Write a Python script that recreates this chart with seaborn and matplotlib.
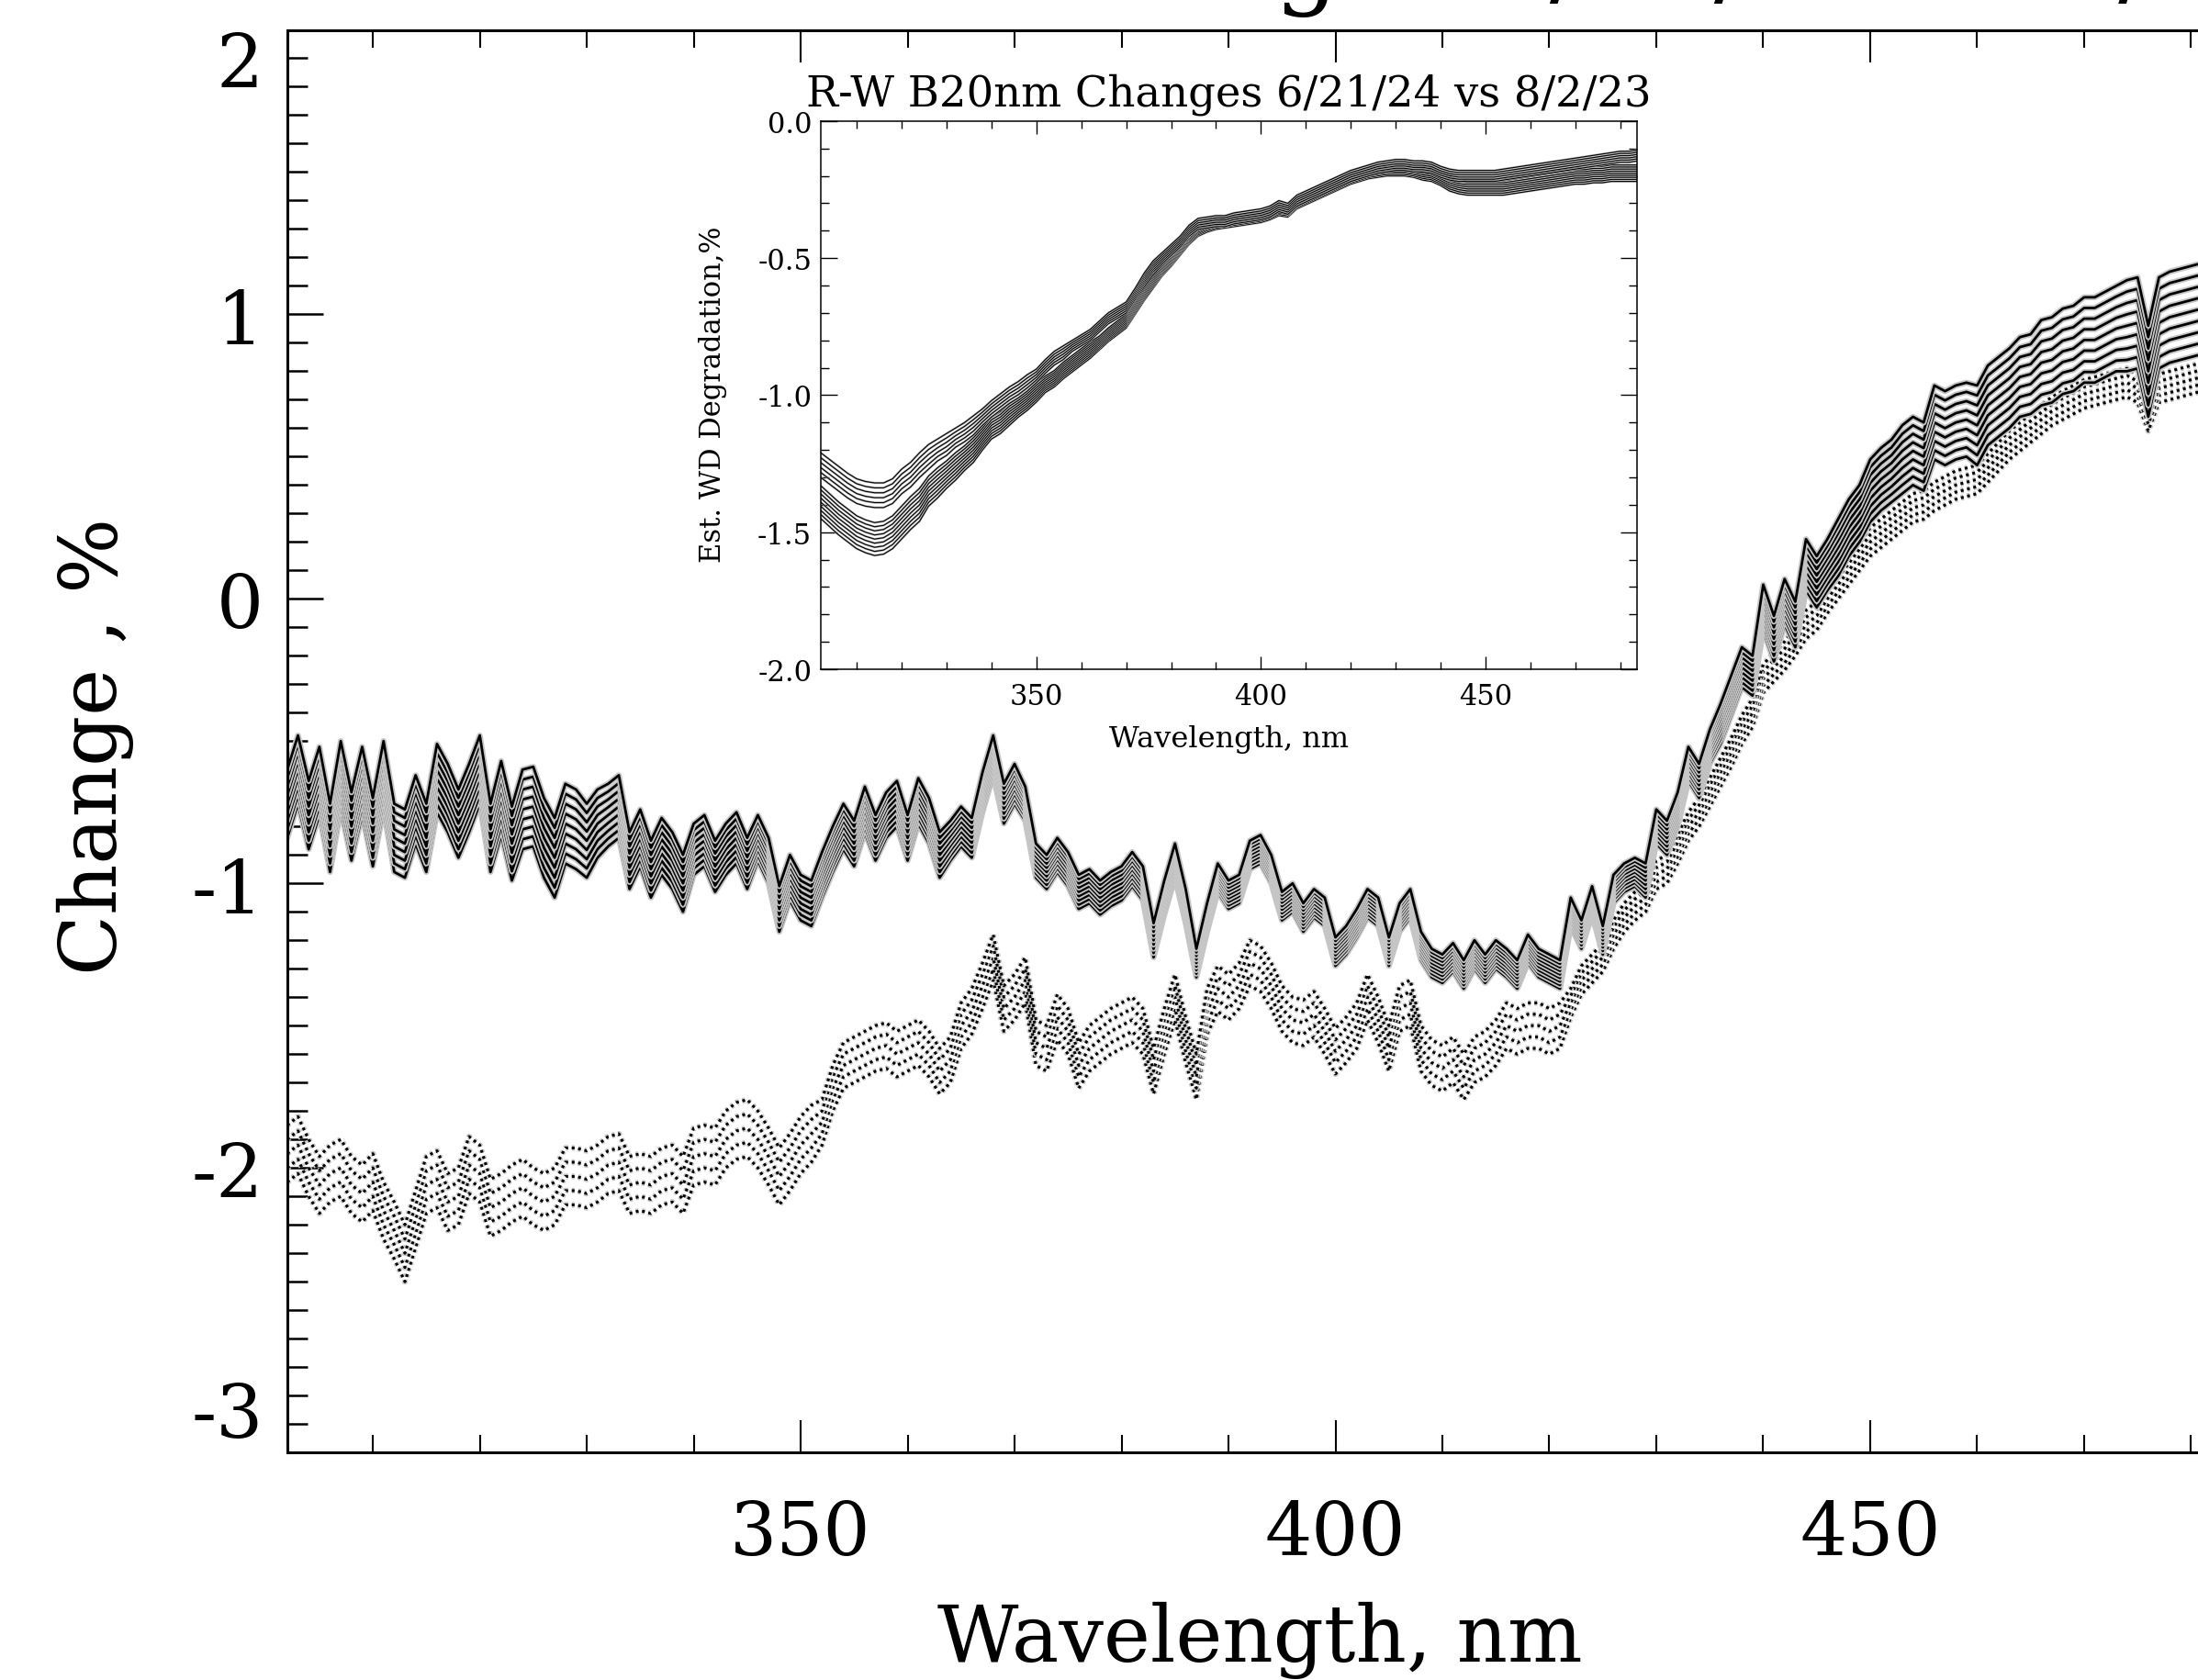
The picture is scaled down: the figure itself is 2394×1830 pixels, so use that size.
"""Estimated window-degradation change spectra with the degradation inset."""
import numpy as np
import pandas as pd
import matplotlib
matplotlib.use("Agg")
import matplotlib.pyplot as plt
import matplotlib.patheffects as pe
from matplotlib.ticker import MultipleLocator, FormatStrFormatter
import seaborn as sns

# ---- main panel, 1 nm steps 302..484 ----
wavelength = np.arange(302, 485)

solid_mid = [
    -0.72, -0.60, -0.76, -0.64, -0.84, -0.62, -0.80, -0.64, -0.82, -0.62,
    -0.84, -0.86, -0.74, -0.84, -0.63, -0.70, -0.79, -0.70, -0.60, -0.84,
    -0.70, -0.86, -0.74, -0.73, -0.84, -0.91, -0.79, -0.81, -0.85, -0.79,
    -0.76, -0.73, -0.92, -0.84, -0.95, -0.87, -0.92, -1.00, -0.88, -0.85,
    -0.94, -0.88, -0.84, -0.93, -0.84, -0.92, -1.09, -0.98, -1.05, -1.07,
    -0.97, -0.88, -0.80, -0.86, -0.74, -0.84, -0.76, -0.72, -0.84, -0.71,
    -0.78, -0.90, -0.85, -0.80, -0.84, -0.68, -0.55, -0.72, -0.65, -0.72,
    -0.92, -0.96, -0.90, -0.95, -1.03, -1.01, -1.05, -1.02, -1.00, -0.95,
    -1.00, -1.20, -1.05, -0.92, -1.08, -1.28, -1.12, -0.98, -1.04, -1.02,
    -0.90, -0.88, -0.95, -1.08, -1.05, -1.12, -1.07, -1.10, -1.24, -1.20,
    -1.14, -1.07, -1.10, -1.24, -1.12, -1.07, -1.22, -1.28, -1.30, -1.26,
    -1.32, -1.25, -1.30, -1.25, -1.28, -1.32, -1.23, -1.28, -1.30, -1.32,
    -1.10, -1.18, -1.06, -1.20, -1.02, -0.98, -0.96, -0.99, -0.80, -0.84,
    -0.74, -0.58, -0.64, -0.52, -0.44, -0.34, -0.24, -0.27, -0.03, -0.14,
    -0.01, -0.09, 0.12, 0.06, 0.12, 0.18, 0.25, 0.30, 0.38, 0.42,
    0.45, 0.49, 0.52, 0.50, 0.62, 0.60, 0.62, 0.63, 0.61, 0.68,
    0.71, 0.74, 0.78, 0.79, 0.83, 0.84, 0.87, 0.88, 0.91, 0.91,
    0.93, 0.95, 0.96, 0.97, 0.80, 0.97, 0.99, 1.00, 1.01, 1.02,
    1.03, 1.04, 1.05,
]
solid_half = [
    0.12, 0.12, 0.12, 0.12, 0.12, 0.12, 0.12, 0.12, 0.12, 0.12,
    0.12, 0.12, 0.12, 0.12, 0.12, 0.12, 0.12, 0.12, 0.12, 0.12,
    0.13, 0.13, 0.14, 0.14, 0.14, 0.14, 0.14, 0.14, 0.13, 0.12,
    0.11, 0.11, 0.10, 0.10, 0.10, 0.10, 0.10, 0.10, 0.09, 0.09,
    0.09, 0.09, 0.09, 0.09, 0.08, 0.08, 0.08, 0.08, 0.08, 0.08,
    0.08, 0.08, 0.08, 0.08, 0.08, 0.08, 0.08, 0.08, 0.08, 0.08,
    0.08, 0.08, 0.07, 0.07, 0.07, 0.07, 0.07, 0.07, 0.07, 0.06,
    0.06, 0.06, 0.06, 0.06, 0.06, 0.06, 0.06, 0.06, 0.06, 0.06,
    0.06, 0.06, 0.06, 0.06, 0.06, 0.05, 0.05, 0.05, 0.05, 0.05,
    0.05, 0.05, 0.05, 0.05, 0.05, 0.05, 0.05, 0.05, 0.05, 0.05,
    0.05, 0.05, 0.05, 0.05, 0.05, 0.05, 0.05, 0.05, 0.05, 0.05,
    0.05, 0.05, 0.05, 0.05, 0.05, 0.05, 0.05, 0.05, 0.05, 0.05,
    0.05, 0.05, 0.05, 0.05, 0.05, 0.05, 0.05, 0.06, 0.06, 0.06,
    0.06, 0.06, 0.06, 0.06, 0.07, 0.07, 0.07, 0.07, 0.08, 0.08,
    0.08, 0.08, 0.09, 0.09, 0.09, 0.10, 0.10, 0.10, 0.11, 0.11,
    0.11, 0.12, 0.12, 0.12, 0.13, 0.13, 0.13, 0.13, 0.14, 0.14,
    0.14, 0.14, 0.14, 0.14, 0.15, 0.15, 0.15, 0.15, 0.15, 0.15,
    0.15, 0.15, 0.16, 0.16, 0.16, 0.16, 0.16, 0.16, 0.16, 0.16,
    0.16, 0.16, 0.16,
]
dotted_mid = [
    -1.95, -1.92, -2.00, -2.06, -2.02, -2.00, -2.06, -2.09, -2.05, -2.15,
    -2.22, -2.30, -2.18, -2.06, -2.04, -2.12, -2.10, -1.99, -2.02, -2.14,
    -2.12, -2.09, -2.07, -2.10, -2.12, -2.10, -2.03, -2.03, -2.04, -2.02,
    -1.99, -1.98, -2.06, -2.05, -2.06, -2.03, -2.02, -2.06, -1.96, -1.95,
    -1.96, -1.90, -1.87, -1.86, -1.90, -1.96, -2.03, -1.98, -1.92, -1.88,
    -1.84, -1.72, -1.64, -1.62, -1.60, -1.58, -1.57, -1.60, -1.58, -1.56,
    -1.60, -1.66, -1.62, -1.50, -1.45, -1.36, -1.26, -1.44, -1.40, -1.34,
    -1.56, -1.58, -1.47, -1.52, -1.64, -1.58, -1.55, -1.52, -1.50, -1.48,
    -1.52, -1.66, -1.52, -1.40, -1.55, -1.68, -1.45, -1.37, -1.40, -1.36,
    -1.28, -1.30, -1.36, -1.44, -1.48, -1.49, -1.46, -1.52, -1.59, -1.55,
    -1.50, -1.40, -1.48, -1.58, -1.44, -1.42, -1.58, -1.63, -1.65, -1.62,
    -1.68, -1.62, -1.60, -1.56, -1.50, -1.52, -1.50, -1.50, -1.52, -1.50,
    -1.42, -1.34, -1.30, -1.26, -1.18, -1.12, -1.08, -1.05, -0.97, -0.95,
    -0.88, -0.80, -0.75, -0.68, -0.61, -0.54, -0.46, -0.40, -0.28, -0.24,
    -0.20, -0.15, -0.09, -0.06, 0.00, 0.05, 0.10, 0.15, 0.20, 0.23,
    0.26, 0.29, 0.32, 0.33, 0.36, 0.38, 0.40, 0.41, 0.42, 0.46,
    0.50, 0.54, 0.57, 0.60, 0.63, 0.66, 0.68, 0.70, 0.72, 0.73,
    0.74, 0.75, 0.76, 0.74, 0.64, 0.74, 0.75, 0.76, 0.77, 0.78,
    0.79, 0.80, 0.81,
]
dotted_half = [
    0.10, 0.10, 0.10, 0.10, 0.10, 0.10, 0.10, 0.10, 0.10, 0.10,
    0.10, 0.10, 0.10, 0.10, 0.10, 0.10, 0.10, 0.10, 0.10, 0.10,
    0.10, 0.10, 0.10, 0.10, 0.10, 0.10, 0.10, 0.10, 0.10, 0.10,
    0.10, 0.10, 0.10, 0.10, 0.10, 0.10, 0.10, 0.10, 0.10, 0.10,
    0.10, 0.10, 0.10, 0.10, 0.10, 0.10, 0.10, 0.10, 0.10, 0.10,
    0.08, 0.08, 0.08, 0.08, 0.08, 0.08, 0.08, 0.08, 0.08, 0.08,
    0.08, 0.08, 0.08, 0.08, 0.08, 0.08, 0.08, 0.08, 0.08, 0.08,
    0.08, 0.08, 0.08, 0.08, 0.08, 0.08, 0.08, 0.08, 0.08, 0.08,
    0.08, 0.08, 0.08, 0.08, 0.08, 0.08, 0.08, 0.08, 0.08, 0.08,
    0.08, 0.08, 0.08, 0.08, 0.08, 0.08, 0.08, 0.08, 0.08, 0.08,
    0.08, 0.08, 0.08, 0.08, 0.08, 0.08, 0.08, 0.08, 0.08, 0.08,
    0.08, 0.08, 0.08, 0.08, 0.08, 0.08, 0.08, 0.08, 0.08, 0.08,
    0.05, 0.05, 0.05, 0.05, 0.05, 0.05, 0.05, 0.05, 0.05, 0.05,
    0.05, 0.05, 0.05, 0.05, 0.05, 0.05, 0.05, 0.05, 0.05, 0.05,
    0.05, 0.05, 0.05, 0.05, 0.05, 0.05, 0.05, 0.05, 0.05, 0.05,
    0.05, 0.05, 0.05, 0.05, 0.05, 0.05, 0.05, 0.05, 0.05, 0.05,
    0.05, 0.05, 0.05, 0.05, 0.05, 0.05, 0.05, 0.05, 0.05, 0.05,
    0.05, 0.05, 0.05, 0.05, 0.05, 0.05, 0.05, 0.05, 0.05, 0.05,
    0.05, 0.05, 0.05,
]
# relative position of each spectrum inside its bundle
solid_frac = [-1.0, -0.75, -0.5, -0.25, 0.0, 0.25, 0.5, 0.75, 1.0]
dotted_frac = [-1.0, -0.5, 0.0, 0.5, 1.0]

# ---- inset, 2 nm steps 302..484 ----
inset_wavelength = np.arange(302, 485, 2)
upper_mid = [
    -1.255, -1.28, -1.305, -1.33, -1.35, -1.36, -1.365, -1.365, -1.35, -1.315,
    -1.29, -1.255, -1.225, -1.20, -1.18, -1.155, -1.135, -1.11, -1.08, -1.05,
    -1.025, -1.00, -0.98, -0.955, -0.93, -0.895, -0.865, -0.845, -0.82, -0.80,
    -0.78, -0.75, -0.72, -0.70, -0.68, -0.63, -0.575, -0.53, -0.50, -0.47,
    -0.44, -0.40, -0.375, -0.37, -0.365, -0.365, -0.355, -0.35, -0.345, -0.34,
    -0.33, -0.31, -0.32, -0.29, -0.275, -0.26, -0.245, -0.23, -0.215, -0.20,
    -0.19, -0.18, -0.17, -0.165, -0.16, -0.16, -0.165, -0.165, -0.17, -0.185,
    -0.195, -0.20, -0.20, -0.20, -0.20, -0.20, -0.195, -0.19, -0.185, -0.18,
    -0.175, -0.17, -0.165, -0.16, -0.155, -0.15, -0.145, -0.14, -0.135, -0.13,
    -0.13, -0.125,
]
lower_mid = [
    -1.39, -1.42, -1.45, -1.475, -1.50, -1.515, -1.525, -1.52, -1.50, -1.465,
    -1.43, -1.40, -1.35, -1.32, -1.29, -1.26, -1.23, -1.20, -1.16, -1.12,
    -1.10, -1.07, -1.045, -1.02, -0.99, -0.96, -0.94, -0.91, -0.885, -0.86,
    -0.835, -0.81, -0.78, -0.755, -0.73, -0.68, -0.63, -0.585, -0.545, -0.51,
    -0.47, -0.43, -0.40, -0.385, -0.375, -0.37, -0.365, -0.36, -0.355, -0.35,
    -0.34, -0.325, -0.33, -0.30, -0.285, -0.27, -0.255, -0.24, -0.225, -0.21,
    -0.20, -0.19, -0.185, -0.18, -0.18, -0.18, -0.185, -0.19, -0.195, -0.21,
    -0.225, -0.235, -0.24, -0.24, -0.24, -0.24, -0.24, -0.235, -0.23, -0.225,
    -0.22, -0.215, -0.21, -0.205, -0.20, -0.20, -0.195, -0.195, -0.19, -0.19,
    -0.19, -0.19,
]
upper_half = [
    0.045, 0.045, 0.045, 0.045, 0.045, 0.045, 0.045, 0.045, 0.045, 0.045,
    0.045, 0.045, 0.045, 0.04, 0.04, 0.035, 0.035, 0.035, 0.03, 0.03,
    0.03, 0.03, 0.03, 0.03, 0.025, 0.025, 0.025, 0.025, 0.02, 0.02,
    0.02, 0.02, 0.02, 0.02, 0.02, 0.02, 0.02, 0.02, 0.02, 0.02,
    0.02, 0.02, 0.02, 0.02, 0.02, 0.02, 0.02, 0.02, 0.02, 0.02,
    0.02, 0.02, 0.02, 0.02, 0.02, 0.02, 0.02, 0.02, 0.02, 0.02,
    0.02, 0.02, 0.02, 0.02, 0.02, 0.02, 0.02, 0.02, 0.02, 0.02,
    0.02, 0.02, 0.02, 0.02, 0.02, 0.02, 0.02, 0.02, 0.02, 0.02,
    0.02, 0.02, 0.02, 0.02, 0.02, 0.02, 0.02, 0.02, 0.02, 0.02,
    0.02, 0.02,
]
lower_half = [
    0.06, 0.06, 0.06, 0.06, 0.06, 0.06, 0.06, 0.06, 0.06, 0.06,
    0.06, 0.06, 0.055, 0.055, 0.05, 0.05, 0.045, 0.045, 0.04, 0.04,
    0.04, 0.04, 0.035, 0.035, 0.035, 0.03, 0.03, 0.03, 0.03, 0.03,
    0.03, 0.025, 0.025, 0.025, 0.025, 0.025, 0.025, 0.025, 0.02, 0.02,
    0.02, 0.02, 0.02, 0.02, 0.02, 0.02, 0.02, 0.02, 0.02, 0.02,
    0.02, 0.02, 0.02, 0.02, 0.02, 0.02, 0.02, 0.02, 0.02, 0.02,
    0.02, 0.02, 0.02, 0.02, 0.02, 0.02, 0.02, 0.025, 0.025, 0.025,
    0.03, 0.03, 0.03, 0.03, 0.03, 0.03, 0.03, 0.03, 0.03, 0.03,
    0.03, 0.03, 0.03, 0.03, 0.03, 0.03, 0.03, 0.03, 0.03, 0.03,
    0.03, 0.03,
]
upper_frac = [-1.0, -0.6, -0.2, 0.2, 0.6, 1.0]
lower_frac = [-1.0, -0.75, -0.5, -0.25, 0.0, 0.25, 0.5, 0.75, 1.0]

main_title = "R-W B20nm Changes 6/21/24 vs 8/2/23"
inset_title = "R-W B20nm Changes 6/21/24 vs 8/2/23"


def bundle(wl, mid, half, fracs, name):
    mid = np.asarray(mid)
    half = np.asarray(half)
    frames = [pd.DataFrame({"wavelength": wl, "value": mid + f * half, "line": f"{name}{i}"})
              for i, f in enumerate(fracs)]
    return pd.concat(frames, ignore_index=True)


sns.set_style("ticks")
plt.rcParams["font.family"] = ["DejaVu Serif"]
plt.rcParams["axes.unicode_minus"] = False
for key in ("text.color", "axes.labelcolor", "xtick.color", "ytick.color", "axes.edgecolor"):
    plt.rcParams[key] = "black"

solid = bundle(wavelength, solid_mid, solid_half, solid_frac, "s")
dotted = bundle(wavelength, dotted_mid, dotted_half, dotted_frac, "d")
upper = bundle(inset_wavelength, upper_mid, upper_half, upper_frac, "u")
lower = bundle(inset_wavelength, lower_mid, lower_half, lower_frac, "l")

fig = plt.figure(figsize=(23.94, 18.31), dpi=100)
ax = fig.add_axes([0.1307, 0.1354, 0.8856, 0.8463])

halo = [pe.Stroke(linewidth=4.6, foreground="#c6c6c6"), pe.Normal()]
sns.lineplot(data=dotted, x="wavelength", y="value", units="line", estimator=None,
             color="black", linewidth=2.2, linestyle=(0, (1.0, 1.3)),
             path_effects=halo, ax=ax, legend=False)
sns.lineplot(data=solid, x="wavelength", y="value", units="line", estimator=None,
             color="black", linewidth=2.0, path_effects=halo, ax=ax, legend=False)

ax.set_xlim(302, 484)
ax.set_ylim(-3, 2)
ax.xaxis.set_major_locator(MultipleLocator(50))
ax.xaxis.set_minor_locator(MultipleLocator(10))
ax.yaxis.set_major_locator(MultipleLocator(1))
ax.yaxis.set_minor_locator(MultipleLocator(0.1))
ax.tick_params(which="both", direction="in", top=True, right=True, colors="black")
ax.tick_params(axis="x", which="major", length=25, width=1.5, pad=36, labelsize=58)
ax.tick_params(axis="x", which="minor", length=14, width=1.5)
ax.tick_params(axis="y", which="major", length=28, width=1.8, pad=19, labelsize=58)
ax.tick_params(axis="y", which="minor", length=16, width=1.8)
for s in ax.spines.values():
    s.set_linewidth(2.2)
    s.set_color("black")
ax.set_xlabel("Wavelength, nm", fontsize=62, color="black")
ax.xaxis.label.set_va("baseline")
ax.xaxis.set_label_coords(0.4995, -0.1465)
ax.set_ylabel("Change , %", fontsize=62, color="black")
ax.yaxis.label.set_va("center")
ax.yaxis.set_label_coords(-0.0986, 0.497)

fig.canvas.draw()
for t in ax.yaxis.get_major_ticks():
    if abs(t.get_loc() - 2) < 1e-6:
        t.label1.set_va("top")
    elif abs(t.get_loc() + 3) < 1e-6:
        t.label1.set_va("bottom")

# clipped title above the frame, only its descenders show (as in the source image)
fig.text(0.164, 1.0033, main_title, fontsize=80, ha="left", va="baseline", color="black")

# ---- inset ----
axin = fig.add_axes([0.3734, 0.6013, 0.3713, 0.3261])
thin = [pe.Stroke(linewidth=1.7, foreground="#b4b4b4"), pe.Normal()]
sns.lineplot(data=lower, x="wavelength", y="value", units="line", estimator=None,
             color="black", linewidth=0.8, path_effects=thin, ax=axin, legend=False)
sns.lineplot(data=upper, x="wavelength", y="value", units="line", estimator=None,
             color="black", linewidth=0.8, path_effects=thin, ax=axin, legend=False)
axin.set_xlim(302, 483.7)
axin.set_ylim(-2.0, 0.0)
axin.xaxis.set_major_locator(MultipleLocator(50))
axin.xaxis.set_minor_locator(MultipleLocator(10))
axin.yaxis.set_major_locator(MultipleLocator(0.5))
axin.yaxis.set_minor_locator(MultipleLocator(0.1))
axin.yaxis.set_major_formatter(FormatStrFormatter("%.1f"))
axin.tick_params(which="both", direction="in", top=True, right=True, colors="black")
axin.tick_params(axis="x", which="major", length=10, width=1.0, pad=10, labelsize=22)
axin.tick_params(axis="x", which="minor", length=6, width=1.0)
axin.tick_params(axis="y", which="major", length=13, width=1.0, pad=7, labelsize=22)
axin.tick_params(axis="y", which="minor", length=6.5, width=1.0)
for s in axin.spines.values():
    s.set_linewidth(1.1)
    s.set_color("black")
axin.set_xlabel("Wavelength, nm", fontsize=23, color="black")
axin.xaxis.label.set_va("baseline")
axin.xaxis.set_label_coords(0.5, -0.141)
axin.set_ylabel("Est. WD Degradation,%", fontsize=22, color="black")
axin.yaxis.label.set_va("center")
axin.yaxis.set_label_coords(-0.132, 0.5025)
axin.text(0.5, 1.03, inset_title, transform=axin.transAxes, fontsize=33.5,
          ha="center", va="baseline", color="black")

fig.savefig("out.png", dpi=100)
